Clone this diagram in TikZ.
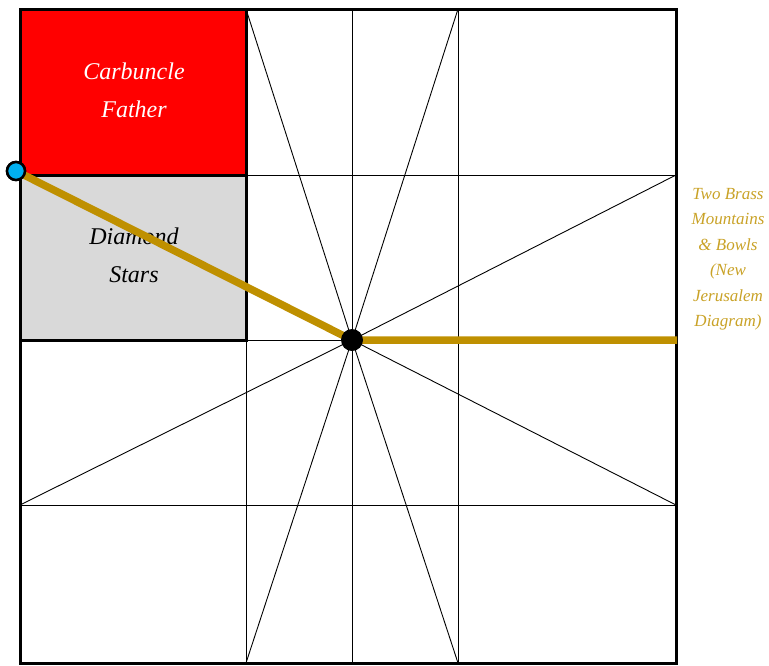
\documentclass[tikz,border=0pt]{standalone}
\usepackage{fontspec}
\setmainfont{Liberation Serif}
\definecolor{goldline}{HTML}{BF9000}
\definecolor{goldtext}{HTML}{C9A227}
\definecolor{boxgray}{HTML}{D9D9D9}
\definecolor{dotblue}{HTML}{00B0F0}
\begin{document}
\begin{tikzpicture}[x=1pt,y=-1pt,
  thin line/.style={black,line width=0.9pt},
  frame/.style={black,line width=3pt},
  goldpath/.style={goldline,line width=7.5pt,line join=round},
  lbl/.style={font=\itshape\fontsize{24}{38}\selectfont,align=center},
  sidelbl/.style={font=\itshape\fontsize{17}{25.5}\selectfont,align=center,text=goldtext}]
\useasboundingbox (0,0) rectangle (769,665);
% boxes
\fill[red] (20,9) rectangle (246,175);
\fill[boxgray] (20,175) rectangle (246,340);
% grid
\foreach \x in {246,352,458} \draw[thin line] (\x,9) -- (\x,663);
\foreach \y in {175,340,505} \draw[thin line] (20,\y) -- (676,\y);
\coordinate (c) at (352,340);
\foreach \p in {(246,9),(458,9),(246,663),(458,663),(676,175),(676,505),(20,175),(20,505)}
  \draw[thin line] (c) -- \p;
% frames
\draw[frame] (20,9) rectangle (246,175);
\draw[frame] (20,175) rectangle (246,340);
\draw[frame] (20,9) rectangle (676,663);
% labels
\node[lbl,text=white] (cf) at (134,90) {Carbuncle\\Father};
\node[lbl,text=black] (ds) at (134,255) {Diamond\\Stars};
\node[sidelbl] (tb) at (728,259) {Two Brass\\Mountains\\\& Bowls\\(New\\Jerusalem\\Diagram)};
% gold path
\coordinate (e) at (677,340);
\node[circle,draw=black,line width=2.5pt,fill=dotblue,minimum size=18pt,inner sep=0pt] (bd) at (16,171) {};
\draw[goldpath] (bd.center) -- (c) -- (e);
\node[circle,draw=black,line width=2.5pt,fill=dotblue,minimum size=18pt,inner sep=0pt] at (bd) {};
\node[circle,fill=black,minimum size=22pt,inner sep=0pt] (cd) at (c) {};
\end{tikzpicture}
\end{document}
